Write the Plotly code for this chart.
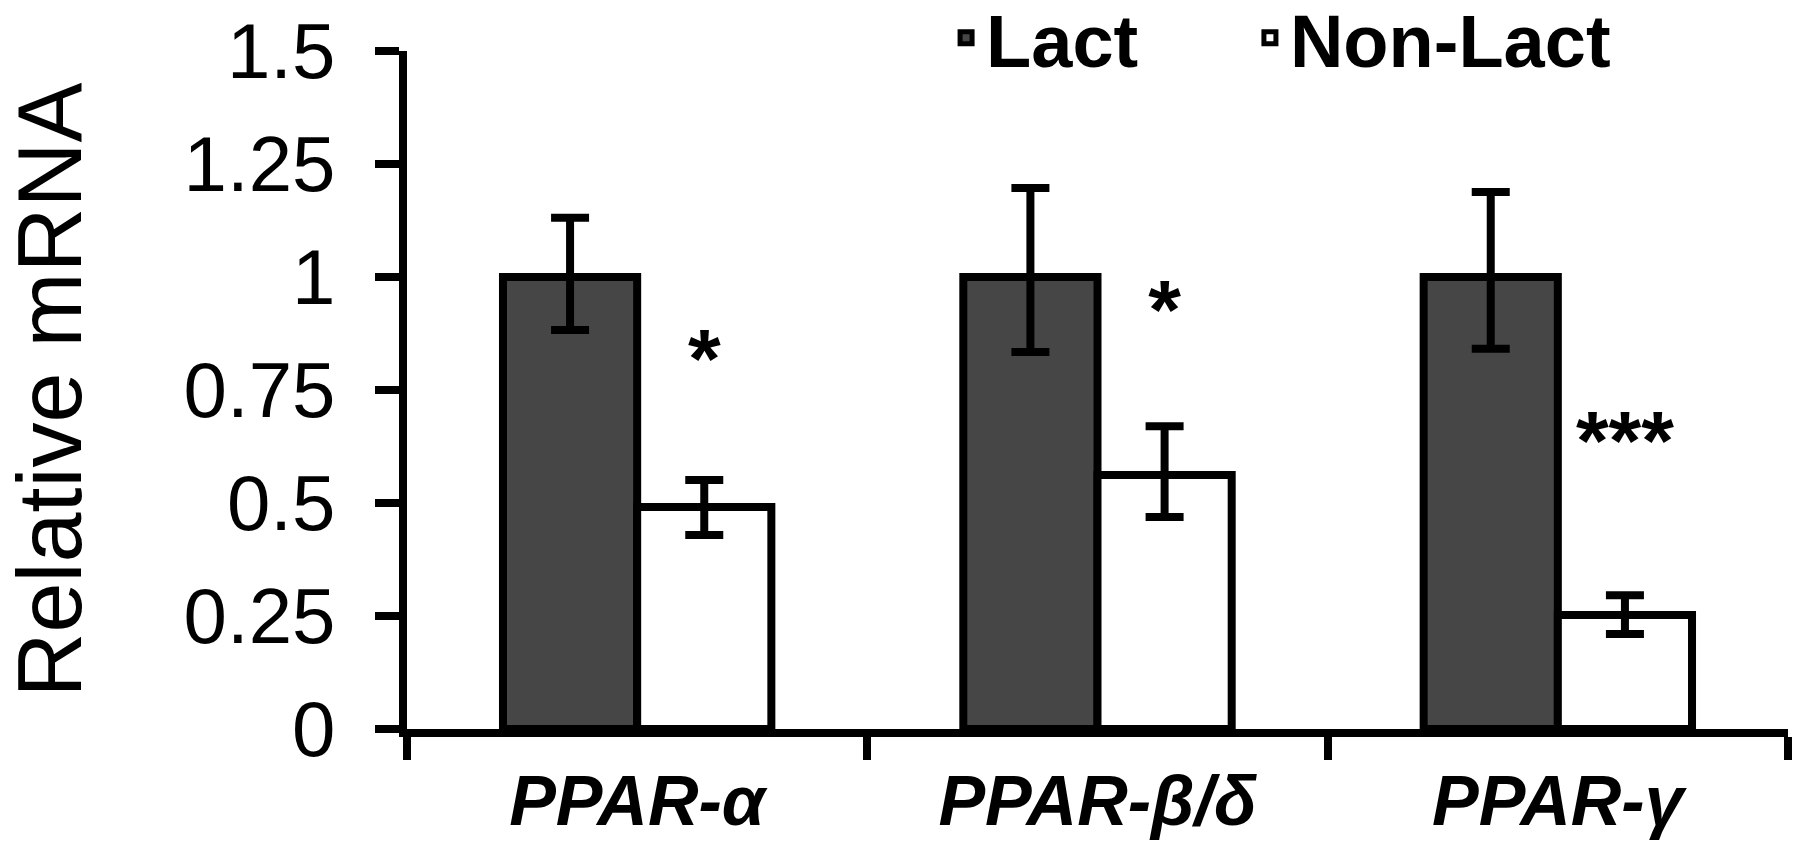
import plotly.graph_objects as go

categories = ["PPAR-α", "PPAR-β/δ", "PPAR-γ"]
lact = [1.0, 1.0, 1.0]
lact_err_plus = [0.131, 0.197, 0.188]
lact_err_minus = [0.117, 0.166, 0.159]
nonlact = [0.491, 0.562, 0.252]
nonlact_err_plus = [0.060, 0.108, 0.044]
nonlact_err_minus = [0.062, 0.093, 0.042]
sig_labels = ["*", "*", "***"]
sig_y = [0.80, 0.91, 0.62]
y_ticks = [0, 0.25, 0.5, 0.75, 1, 1.25, 1.5]
y_ticktext = ["0", "0.25", "0.5", "0.75", "1", "1.25", "1.5"]

LW = 8
fig = go.Figure()
fig.add_trace(go.Bar(
    x=categories, y=lact, name="Lact", legend="legend",
    marker=dict(color="#464646", line=dict(color="black", width=LW)),
    error_y=dict(type="data", symmetric=False, array=lact_err_plus,
                 arrayminus=lact_err_minus, color="black", thickness=LW, width=19),
    offsetgroup="lact",
))
fig.add_trace(go.Bar(
    x=categories, y=nonlact, name="Non-Lact", legend="legend2",
    marker=dict(color="white", line=dict(color="black", width=LW)),
    error_y=dict(type="data", symmetric=False, array=nonlact_err_plus,
                 arrayminus=nonlact_err_minus, color="black", thickness=LW, width=19),
    offsetgroup="nonlact",
))
# significance marks, grouped to align with bars
fig.add_trace(go.Scatter(
    x=categories, y=sig_y, mode="text", text=["", "", ""],
    showlegend=False, offsetgroup="lact", hoverinfo="skip",
))
fig.add_trace(go.Scatter(
    x=categories, y=sig_y, mode="text", text=sig_labels,
    textfont=dict(family="Liberation Sans", size=84, color="black", weight="bold"),
    textposition="middle center",
    showlegend=False, offsetgroup="nonlact", hoverinfo="skip",
))

legend_font = dict(family="Liberation Sans", size=74, color="black", weight="bold")
fig.update_layout(
    width=1800, height=846,
    margin=dict(l=407, r=12, t=51, b=117, autoexpand=False),
    paper_bgcolor="white", plot_bgcolor="white",
    barmode="group", bargap=0.417, bargroupgap=0,
    scattermode="group", scattergap=0.417,
    font=dict(family="Liberation Sans", color="black"),
    legend=dict(
        orientation="h", xref="container", yref="container",
        x=0.5256, xanchor="left", y=0.955, yanchor="middle",
        font=legend_font, bgcolor="rgba(0,0,0,0)",
    ),
    legend2=dict(
        orientation="h", xref="container", yref="container",
        x=0.6944, xanchor="left", y=0.955, yanchor="middle",
        font=legend_font, bgcolor="rgba(0,0,0,0)",
    ),
    showlegend=True,
)
fig.update_xaxes(
    type="category", categoryorder="array", categoryarray=categories,
    showline=True, linecolor="black", linewidth=LW,
    ticks="outside", tickson="boundaries", ticklen=23, tickwidth=LW, tickcolor="black",
    tickfont=dict(family="Liberation Sans", size=70, color="black", weight="bold", style="italic"),
    ticklabelstandoff=4,
    showgrid=False, zeroline=False,
)
fig.update_yaxes(
    range=[0, 1.5], tickvals=y_ticks, ticktext=y_ticktext,
    showline=True, linecolor="black", linewidth=LW,
    ticks="outside", ticklen=24, tickwidth=LW, tickcolor="black",
    tickfont=dict(family="Liberation Sans", size=78, color="black"),
    ticklabelstandoff=24,
    title=dict(text="Relative mRNA", font=dict(family="Liberation Sans", size=90, color="black"), standoff=122),
    showgrid=False, zeroline=False,
)

fig.write_html("out.html")
